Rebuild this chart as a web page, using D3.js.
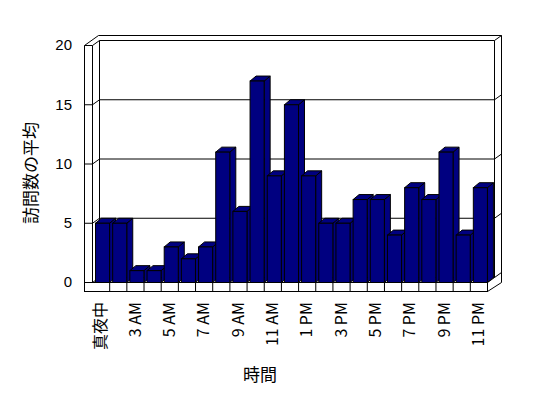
<!DOCTYPE html>
<html>
<head>
<meta charset="utf-8">
<script src="https://cdn.jsdelivr.net/npm/d3@7"></script>
<style>
    body { margin: 0; background: #fff; }
    text { font-family: 'Liberation Sans', Arial, sans-serif; fill: #000; }
    text.jp { font-family: 'Noto Sans CJK JP', sans-serif; }
</style>
</head>
<body>
<div id="chart"></div>
<script>
// average visits per hour, 3d column chart
let hours = ['真夜中', '1 AM', '3 AM', '4 AM', '5 AM', '6 AM', '7 AM', '8 AM', '9 AM', '10 AM', '11 AM', '正午',
    '1 PM', '2 PM', '3 PM', '4 PM', '5 PM', '6 PM', '7 PM', '8 PM', '9 PM', '10 PM', '11 PM']
let visits = [5, 5, 1, 1, 3, 2, 3, 11, 6, 17, 9, 15, 9, 5, 5, 7, 7, 4, 8, 7, 11, 4, 8]
let yTicks = [0, 5, 10, 15, 20]
let xTitle = '時間'
let yTitle = '訪問数の平均'

let width = 548, height = 398
let barColor = '#000080'

// front plane of the box, depth step for walls and bars
let plotLeft = 92, plotRight = 487, plotBottom = 282, plotTop = 45
let wallW = 8, floorH = 9
let dx = 7, dy = -5
let bdx = 6, bdy = -5

let svg = d3.select('#chart').append('svg')
    .attr('width', width)
    .attr('height', height)

let x = d3.scaleBand().domain(hours).range([plotLeft, plotRight]).padding(0)
let y = d3.scaleLinear().domain([0, 20]).range([plotBottom, plotTop])

let g = svg.append('g').attr('transform', 'translate(0.5,0.5)')
let line = (x1, y1, x2, y2) => g.append('line')
    .attr('x1', x1).attr('y1', y1).attr('x2', x2).attr('y2', y2)
    .attr('stroke', '#000').attr('stroke-width', 1)

// walls
let bx1 = plotLeft + dx, bx2 = plotRight + dx
let ox = plotLeft - wallW
line(ox, y(20), ox, plotBottom + floorH)
line(plotLeft, y(20), plotLeft, plotBottom)
line(ox, y(20), plotLeft, y(20))
line(ox, y(20), bx1 - 1, y(20) + 2 * dy)
line(plotLeft, y(20), bx1, y(20) + dy)
line(bx1, y(20) + dy, bx1, plotBottom + dy)
line(bx1, y(20) + dy, bx2, y(20) + dy)
line(bx1 - 1, y(20) + 2 * dy, bx2 + dx, y(20) + 2 * dy)
line(bx2, y(20) + dy, bx2, plotBottom + dy)
line(bx2, y(20) + dy, bx2 + dx, y(20) + 2 * dy)
line(bx2 + dx, y(20) + 2 * dy, bx2 + dx, plotBottom)

// gridlines across the side wall and back wall
yTicks.forEach(v => {
    if (v == 20) return
    line(ox, y(v), plotLeft, y(v))
    line(plotLeft, y(v), bx1, y(v) + dy)
    line(bx1, y(v) + dy, bx2, y(v) + dy)
    line(bx2, y(v) + dy, bx2 + dx, y(v) + 2 * dy)
})

// floor front face with category ticks
g.append('rect')
    .attr('x', ox).attr('y', plotBottom)
    .attr('width', plotRight - ox).attr('height', floorH)
    .attr('fill', '#fff').attr('stroke', '#000')
line(plotRight, plotBottom, bx2, plotBottom + dy)
line(plotRight, plotBottom + floorH, bx2 + dx, plotBottom)
hours.forEach((h, i) => {
    if (i == 0) return
    line(x(h), plotBottom, x(h), plotBottom + floorH)
})

// bars, left to right so each front hides the previous side
let barW = x.bandwidth() * 0.82
let bars = g.selectAll('.bar')
    .data(hours.map((h, i) => ({ hour: h, value: visits[i] })))
    .enter()
    .append('g')
    .attr('class', 'bar')

bars.append('path')
    .attr('d', d => {
        let x0 = x(d.hour) + 3, y0 = y(d.value)
        return `M${x0 + barW},${y0} l${bdx},${bdy} L${x0 + barW + bdx},${plotBottom + bdy} L${x0 + barW},${plotBottom} Z`
    })
    .attr('fill', barColor).attr('stroke', '#000')
bars.append('path')
    .attr('d', d => {
        let x0 = x(d.hour) + 3, y0 = y(d.value)
        return `M${x0},${y0} l${bdx},${bdy} h${barW} l${-bdx},${-bdy} Z`
    })
    .attr('fill', barColor).attr('stroke', '#000')
bars.append('rect')
    .attr('x', d => x(d.hour) + 3)
    .attr('y', d => y(d.value))
    .attr('width', barW)
    .attr('height', d => plotBottom - y(d.value))
    .attr('fill', barColor).attr('stroke', '#000')

// value axis labels
svg.selectAll('.ylab')
    .data(yTicks)
    .enter()
    .append('text')
    .attr('x', 72)
    .attr('y', d => y(d))
    .attr('dy', '0.36em')
    .attr('text-anchor', 'end')
    .style('font-size', '15px')
    .text(d => d)

// category labels, every other hour
svg.selectAll('.xlab')
    .data(hours.filter((h, i) => i % 2 == 0))
    .enter()
    .append('text')
    .attr('class', 'jp')
    .attr('transform', d => `translate(${x(d) + x.bandwidth() / 2},302) rotate(-90)`)
    .attr('dy', '0.36em')
    .attr('text-anchor', 'end')
    .style('font-size', '16px')
    .text(d => d)

// axis titles
svg.append('text')
    .attr('class', 'jp')
    .attr('x', 260).attr('y', 375)
    .attr('dy', '0.36em')
    .attr('text-anchor', 'middle')
    .style('font-size', '17px')
    .text(xTitle)
svg.append('text')
    .attr('class', 'jp')
    .attr('transform', 'translate(31,173) rotate(-90)')
    .attr('dy', '0.36em')
    .attr('text-anchor', 'middle')
    .style('font-size', '17px')
    .text(yTitle)
</script>
</body>
</html>
